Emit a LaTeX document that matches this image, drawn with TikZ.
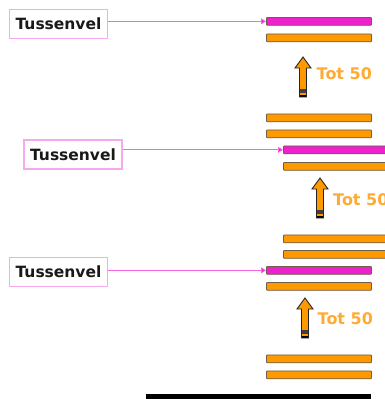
\documentclass[tikz,border=0pt]{standalone}
\usepackage{fontspec}
\setmainfont{DejaVu Sans}
\usetikzlibrary{arrows.meta}

\definecolor{barorange}{HTML}{FF9900}
\definecolor{barmagenta}{HTML}{EE22CC}
\definecolor{baredge}{HTML}{6E5E4A}
\definecolor{tagpink}{HTML}{F7A8EF}
\definecolor{linkpink}{HTML}{F566E2}
\definecolor{totorange}{HTML}{FFAA33}

\tikzset{
  layer/.style={draw=baredge, line width=0.9pt, rounded corners=0.8pt,
    inner sep=0pt, minimum height=7.8pt, anchor=north west},
  orangelayer/.style={layer, fill=barorange},
  magentalayer/.style={layer, fill=barmagenta},
  tagbox/.style={draw=tagpink, line width=1.4pt, fill=white, inner sep=0pt,
    minimum width=98pt, minimum height=29pt, text=black!90,
    font=\bfseries\fontsize{15.5}{18}\selectfont},
  link/.style={draw=linkpink, line width=0.8pt,
    -{Triangle[length=5pt,width=6pt,fill=barmagenta]}},
  totlabel/.style={anchor=west, inner sep=0pt, text=totorange,
    font=\bfseries\fontsize{16}{19}\selectfont},
  pics/uparrow/.style={code={
    \fill[barorange] (0,0) -- (8,11) -- (3.5,11) -- (3.5,40) -- (-3.5,40)
      -- (-3.5,11) -- (-8,11) -- cycle;
    \fill[black!75] (-3.5,32) rectangle (3.5,35.5);
    \fill[black] (-3.5,37.5) rectangle (3.5,40);
    \draw[black!85, line width=0.9pt, line join=miter] (0,0) -- (8,11) -- (3.5,11)
      -- (3.5,40) -- (-3.5,40) -- (-3.5,11) -- (-8,11) -- cycle;
  }}
}

\begin{document}
\begin{tikzpicture}[x=1pt, y=-1pt]
  \clip (0,0) rectangle (385,399);
  \fill[white] (0,0) rectangle (385,399);

  % top stack
  \node[magentalayer, minimum width=105pt] (m1) at (266,17) {};
  \node[orangelayer, minimum width=105pt] (o1) at (266,33.5) {};
  \pic at (303,57) {uparrow};
  \node[totlabel] (t1) at (316.5,73.5) {Tot 50};
  \node[orangelayer, minimum width=105pt] (o2) at (266,113.5) {};
  \node[orangelayer, minimum width=105pt] (o3) at (266,129.5) {};
  \node[tagbox] (n1) at (58.5,24) {Tussenvel};
  \draw[link] (n1.east |- m1.west) -- (m1.west);

  % middle stack
  \node[magentalayer, minimum width=110pt] (m2) at (283,145.5) {};
  \node[orangelayer, minimum width=110pt] (o4) at (283,162) {};
  \pic at (320,178) {uparrow};
  \node[totlabel] (t2) at (333,199.5) {Tot 50};
  \node[orangelayer, minimum width=110pt] (o5) at (283,234.5) {};
  \node[orangelayer, minimum width=110pt] (o6) at (283,250) {};
  \node[tagbox] (n2) at (73,154.5) {Tussenvel};
  \draw[link] (n2.east |- m2.west) -- (m2.west);

  % bottom stack
  \node[magentalayer, minimum width=105pt] (m3) at (266,266) {};
  \node[orangelayer, minimum width=105pt] (o7) at (266,282) {};
  \pic at (305,298) {uparrow};
  \node[totlabel] (t3) at (317.5,319) {Tot 50};
  \node[orangelayer, minimum width=105pt] (o8) at (266,354.5) {};
  \node[orangelayer, minimum width=105pt] (o9) at (266,370.5) {};
  \node[tagbox] (n3) at (58.5,272) {Tussenvel};
  \draw[link] (n3.east |- m3.west) -- (m3.west);

  % base line
  \node[fill=black, inner sep=0pt, minimum width=225pt, minimum height=12pt,
    anchor=north west] (base) at (146,394) {};
\end{tikzpicture}
\end{document}
